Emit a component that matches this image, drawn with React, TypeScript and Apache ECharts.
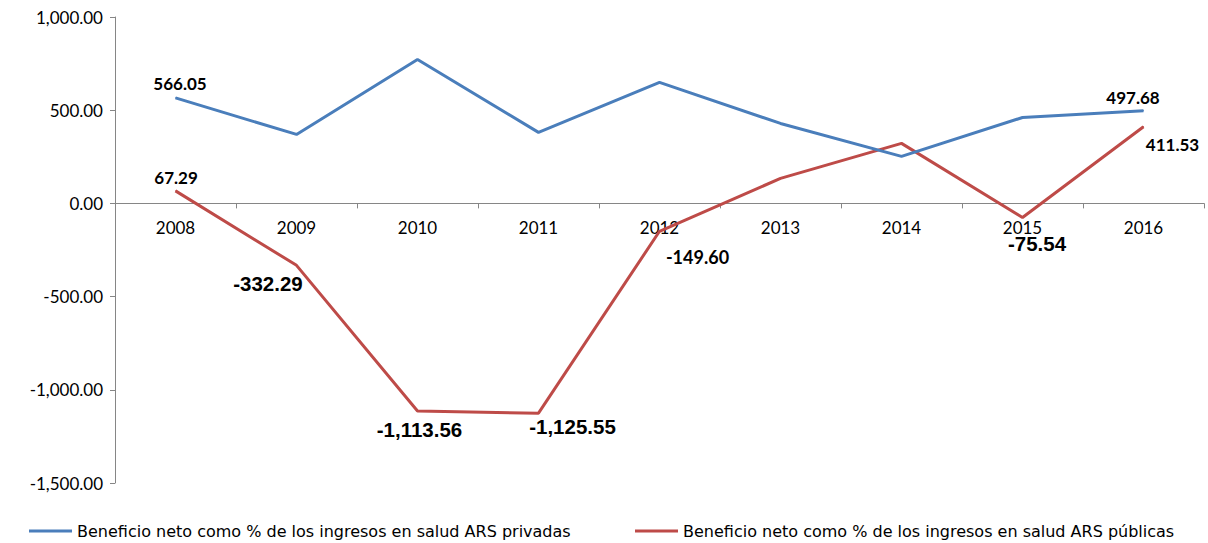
import React, { useEffect, useRef } from "react";
import * as echarts from "echarts";

const years = ["2008", "2009", "2010", "2011", "2012", "2013", "2014", "2015", "2016"];
const privadas = [566.05, 370, 772, 381, 649, 429, 252, 461, 497.68];
const publicas = [67.29, -332.29, -1113.56, -1125.55, -149.6, 134, 322, -75.54, 411.53];
const privadasName = "Beneficio neto como % de los ingresos en salud ARS privadas";
const publicasName = "Beneficio neto como % de los ingresos en salud ARS públicas";
const yTicks = { min: -1500, max: 1000, interval: 500 };

// which points carry a label (index -> style); offsets relative to the point
const privLabels: Record<number, any> = {
  0: { offset: [4.5, -14], family: "Lato", size: 17 },
  8: { offset: [-10.5, -13.6], family: "Lato", size: 17 },
};
const pubLabels: Record<number, any> = {
  0: { offset: [0.5, -13], family: "Lato", size: 17 },
  1: { offset: [-28.5, 17.7], family: "Liberation Sans", size: 20.5 },
  2: { offset: [2, 19], family: "Liberation Sans", size: 20.5 },
  3: { offset: [34, 13.3], family: "Liberation Sans", size: 20.5 },
  4: { offset: [38, 26], family: "Lato", size: 18 },
  7: { offset: [14.5, 26.5], family: "Liberation Sans", size: 20.5 },
  8: { offset: [29, 18], family: "Lato", size: 17 },
};

const fmt = (v: number) =>
  v.toLocaleString("en-US", { minimumFractionDigits: 2, maximumFractionDigits: 2 });

function buildData(values: number[], labels: Record<number, any>) {
  return values.map((v, i) => {
    const l = labels[i];
    if (!l) return { value: v, label: { show: false } };
    return {
      value: v,
      label: {
        show: true,
        position: "inside",
        align: "center",
        verticalAlign: "middle",
        offset: l.offset,
        fontFamily: l.family,
        fontSize: l.size,
        fontWeight: "bold",
        color: "#000",
        formatter: () => fmt(v),
      },
    };
  });
}

const GRID_TOP = 17;
const GRID_BOTTOM = 60;
const CHART_H = 543;

export default function App() {
  const ref = useRef<HTMLDivElement>(null);
  useEffect(() => {
    const chart = echarts.init(ref.current!, null, { renderer: "svg" });
    const axisColor = "#868686";
    const plotH = CHART_H - GRID_TOP - GRID_BOTTOM;
    const zeroFromBottom = (plotH * (0 - yTicks.min)) / (yTicks.max - yTicks.min);
    const legendText = { fontFamily: "DejaVu Sans", fontSize: 16, color: "#000" };
    chart.setOption({
      animation: false,
      grid: { left: 115, right: 4, top: GRID_TOP, bottom: GRID_BOTTOM, containLabel: false },
      legend: [
        {
          left: 29,
          top: 523,
          padding: 0,
          data: [privadasName],
          icon: "rect",
          itemWidth: 43,
          itemHeight: 3,
          textStyle: legendText,
        },
        {
          left: 635,
          top: 523,
          padding: 0,
          data: [publicasName],
          icon: "rect",
          itemWidth: 43,
          itemHeight: 3,
          textStyle: legendText,
        },
      ],
      xAxis: {
        type: "category",
        data: years,
        boundaryGap: true,
        offset: -zeroFromBottom,
        axisLine: { onZero: false, lineStyle: { color: axisColor, width: 1 } },
        axisTick: { show: true, length: 5, lineStyle: { color: axisColor } },
        axisLabel: { margin: 16, fontFamily: "Lato", fontSize: 17, color: "#000" },
        splitLine: { show: false },
      },
      yAxis: {
        type: "value",
        min: yTicks.min,
        max: yTicks.max,
        interval: yTicks.interval,
        axisLine: { show: true, lineStyle: { color: axisColor, width: 1 } },
        axisTick: { show: true, length: 5, lineStyle: { color: axisColor } },
        axisLabel: {
          margin: 12,
          fontFamily: "Lato",
          fontSize: 17,
          color: "#000",
          formatter: (v: number) => fmt(v),
        },
        splitLine: { show: false },
      },
      series: [
        {
          name: privadasName,
          type: "line",
          data: buildData(privadas, privLabels),
          symbol: "circle",
          symbolSize: 1,
          showSymbol: true,
          lineStyle: { color: "#4A7EBB", width: 3 },
          itemStyle: { color: "#4A7EBB" },
          z: 3,
        },
        {
          name: publicasName,
          type: "line",
          data: buildData(publicas, pubLabels),
          symbol: "circle",
          symbolSize: 1,
          showSymbol: true,
          lineStyle: { color: "#BE4B48", width: 3 },
          itemStyle: { color: "#BE4B48" },
          z: 2,
        },
      ],
    });
    return () => chart.dispose();
  }, []);
  return <div ref={ref} style={{ width: 1208, height: 543, position: "absolute", left: 0, top: 0 }} />;
}
